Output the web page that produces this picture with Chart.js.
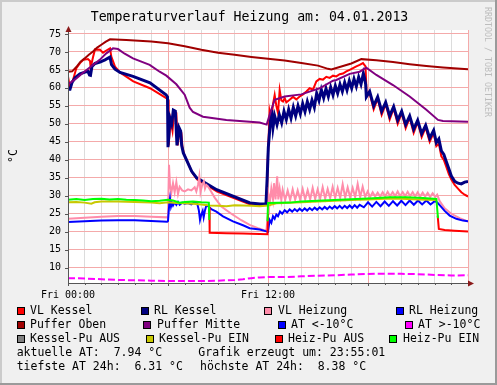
<!DOCTYPE html>
<html><head><meta charset="utf-8">
<script src="https://cdn.jsdelivr.net/npm/chart.js@4.4.0/dist/chart.umd.min.js"></script>
<style>html,body{margin:0;padding:0;background:#f0f0f0;overflow:hidden}canvas{display:block}</style>
</head><body>
<canvas id="c" width="497" height="385"></canvas>
<script>
// ---- data: [hour, °C] ----
const vlKessel = [[0,63.2],[0.1,60.5],[0.3,62.2],[0.5,65.5],[0.72,66.9],[0.92,67.8],[1.2,68],[1.32,67.5],[1.36,65.6],[1.5,68.5],[1.62,70.7],[1.92,70.6],[2.1,69.8],[2.3,70.4],[2.52,71],[2.6,68.7],[2.82,65.9],[3.12,64.3],[3.92,61.8],[4.92,59.9],[5.92,57.1],[6.0,56.8],
[6.04,44],[6.15,51],[6.27,48],[6.38,53.5],[6.5,53],[6.58,44],[6.7,48.5],[6.8,47.5],[6.87,43.5],[6.97,41.5],[7.45,36.5],[7.75,34.5],[8.95,31.2],[10.95,27.6],[11.55,27.2],[11.9,27.5],
[12.0,42],[12.1,53.4],[12.2,51],[12.3,55.5],[12.4,58],[12.5,55],[12.6,53],[12.7,59.4],[12.8,56.5],[12.9,56.2],[13.0,57.2],[13.1,56],[13.3,56.7],[13.5,57.5],[13.7,56.8],[13.9,57.6],[14.1,58.2],[14.3,59],[14.5,59.9],[14.7,59.5],[14.9,61.8],[15.1,62.5],[15.3,62.3],[15.5,63.1],[15.7,62.8],[15.9,63.4],[16.1,63.2],[16.3,63.8],[16.5,64],[16.7,64.6],[16.9,65],[17.1,65.5],[17.3,66],[17.5,66.4],[17.7,66.9],[17.85,66],
[17.92,58],[18.1,58.5],[18.34,54],[18.58,57],[18.82,52.5],[19.06,55.5],[19.3,51.2],[19.54,54.3],[19.78,50],[20.02,53],[20.26,48.8],[20.5,51.7],[20.74,47.5],[20.98,50.5],[21.22,46.3],[21.46,49],[21.7,45],[21.94,47.5],[22.1,43.8],[22.25,44.5],[22.4,41],[22.55,40],[22.7,38],[22.85,36],[23.0,34.5],[23.2,33],[23.4,32],[23.6,31],[23.8,30.3],[24,29.8]];

const rlKessel = [[0,59.6],[0.12,59.6],[0.24,61.5],[0.42,62.8],[0.72,63.9],[1.02,64.4],[1.2,64.6],[1.29,63.6],[1.35,63.5],[1.44,66],[1.62,66.8],[1.92,67.2],[2.22,67.8],[2.52,68.6],[2.61,66.5],[2.82,65.2],[3.12,64.3],[3.9,63.2],[4.92,61.4],[5.88,58.1],[5.97,57.5],
[6.0,43.5],[6.12,51.5],[6.22,50],[6.32,53.8],[6.44,53.5],[6.54,44],[6.66,49],[6.76,48],[6.82,44],[6.92,41.9],[7.42,36.8],[7.72,35],[8.92,31.7],[10.92,28],[11.52,27.7],[11.88,27.8],
[11.95,35],[12.02,43.5],[12.12,49.3],[12.22,53.9],[12.3,49],
[12.4,52.2],[12.54,49.8],[12.68,52.5],[12.82,50.3],[12.96,53.5],[13.1,51.2],[13.24,54],[13.38,51.6],[13.52,54.6],[13.66,52.2],[13.8,55],[13.94,52.8],[14.08,55.6],[14.22,53.4],[14.36,56.2],[14.5,54],[14.64,56.6],[14.78,54.6],[14.92,58.5],[15.06,56.5],[15.2,59.5],[15.34,57.2],[15.48,59.8],[15.62,57.6],[15.76,60.2],[15.9,58],[16.04,60.6],[16.18,58.5],[16.32,61],[16.46,59],[16.6,61.5],[16.74,59.4],[16.88,62],[17.02,59.9],[17.16,62.5],[17.3,60.4],[17.44,63],[17.58,61],[17.72,64],[17.8,62.5],[17.86,61],
[17.9,57.5],[18.1,59],[18.34,55],[18.58,57.5],[18.82,53.5],[19.06,56],[19.3,52.2],[19.54,54.8],[19.78,51],[20.02,53.5],[20.26,49.8],[20.5,52.2],[20.74,48.5],[20.98,51],[21.22,47.3],[21.46,49.6],[21.7,46],[21.94,48.2],[22.1,44.8],[22.25,45.8],[22.4,42.5],[22.55,41.5],[22.7,39.5],[22.85,37.5],[23.0,35.5],[23.2,34],[23.4,33.5],[23.6,33.3],[23.8,33.8],[24,34]];

const vlHeizung = [[0,23.6],[1,23.9],[2,24.2],[3,24.4],[4,24.4],[5,24.2],[5.95,24.0],
[6.0,24.5],[6.06,38.6],[6.12,33],[6.2,30.8],[6.3,33.5],[6.4,31],[6.5,33.8],[6.6,30.5],[6.7,32.5],[6.85,31.5],[7.0,31.2],[7.2,31.8],[7.4,31.5],[7.6,32.4],[7.7,31.2],[7.8,33],[7.88,35.4],[7.95,31],[8.05,33],[8.15,34],[8.22,32],[8.3,33],[8.4,32.6],[8.55,31.5],[8.8,29.5],[9.2,27],[9.8,25],[10.4,23.2],[10.9,21.9],[11.4,21],[11.9,20.2],
[12.0,25],[12.05,30],[12.12,28.5],[12.2,32],[12.3,29],[12.36,33.5],[12.45,29],[12.55,35.4],[12.62,29],[12.7,32],[12.8,28.8],[12.88,31.7],[13.03,28.8],[13.18,31.5],[13.33,28.8],[13.48,31.8],[13.63,28.9],[13.78,31.5],[13.93,28.9],[14.08,31.9],[14.23,29],[14.38,31.6],[14.53,29],[14.68,32.2],[14.83,29.1],[14.98,31.8],[15.13,29.2],[15.28,32.4],[15.43,29.2],[15.58,31.9],[15.73,29.3],[15.88,32.5],[16.03,29.4],[16.18,32.2],[16.33,29.4],[16.48,33.2],[16.63,29.5],[16.78,32.3],[16.93,29.5],[17.08,32.2],[17.23,29.6],[17.38,33.3],[17.53,29.6],[17.68,32.5],[17.83,29.7],[17.98,31.2],[18.13,29.7],[18.28,31],[18.43,29.8],[18.58,30.9],[18.73,29.8],[18.88,31],[19.03,29.8],[19.18,31.1],[19.33,29.9],[19.48,31],[19.63,29.9],[19.78,31.2],[19.93,29.9],[20.08,31],[20.23,29.9],[20.38,31.1],[20.53,29.9],[20.68,31],[20.83,29.8],[20.98,31],[21.13,29.8],[21.28,30.9],[21.43,29.8],[21.58,30.8],[21.73,29.7],[21.88,30.7],[22.03,29.7],[22.15,30.3],[22.3,28.5],[22.6,26.5],[23,25],[23.5,23.8],[24,22.8]];

const rlHeizung = [[0,22.7],[1,22.9],[2,23.1],[3,23.2],[4,23.2],[5,23.0],[5.95,22.8],
[6.0,23],[6.08,28],[6.12,29.3],[6.18,27],[6.24,28],[6.3,27.3],[6.4,28.2],[6.5,27.5],[6.6,28.3],[6.7,27.5],[6.85,28.1],[7.0,27.8],[7.2,28],[7.4,27.6],[7.6,28.2],[7.75,27.9],[7.85,26],[7.92,23.3],[8.0,24.8],[8.08,25.8],[8.14,24],[8.22,26],[8.3,27.3],[8.45,27],[8.6,26.3],[8.9,25.6],[9.3,24.3],[9.9,22.9],[10.5,21.8],[10.9,21.0],[11.5,20.6],[11.9,20.1],
[12.0,20],[12.1,23.3],[12.2,22.5],[12.3,24.3],[12.4,23.6],[12.5,24.8],[12.6,24.3],[12.72,25.6],[12.85,25],[13.0,26],[13.15,25.4],[13.3,26.2],[13.45,25.6],[13.6,26.3],[13.75,25.7],[13.9,26.4],[14.05,25.8],[14.2,26.5],[14.35,25.9],[14.5,26.6],[14.65,26],[14.8,26.7],[14.95,26.1],[15.1,26.8],[15.25,26.2],[15.4,26.9],[15.55,26.3],[15.7,27],[15.85,26.4],[16.0,27.1],[16.15,26.5],[16.3,27.2],[16.45,26.5],[16.6,27.2],[16.75,26.6],[16.9,27.3],[17.05,26.6],[17.2,27.4],[17.35,26.7],[17.5,27.5],[17.75,26.8],[18.0,28.2],[18.25,27],[18.5,28.3],[18.75,27.1],[19.0,28.4],[19.25,27.2],[19.5,28.5],[19.75,27.3],[20.0,28.6],[20.25,27.4],[20.5,28.7],[20.75,27.5],[21.0,28.7],[21.25,27.6],[21.5,28.7],[21.75,27.6],[22.0,28.5],[22.15,28.2],[22.3,27.4],[22.6,25.8],[22.9,24.5],[23.3,23.6],[23.7,23.1],[24,22.9]];

const pufferOben = [[0,64.5],[0.25,64.6],[0.5,65.8],[0.75,67.3],[1.0,68.2],[1.25,69.2],[1.5,70.1],[1.75,71.2],[2.0,72],[2.25,72.8],[2.52,73.5],[3.5,73.3],[5,72.9],[6,72.4],[7,71.6],[8,70.6],[9,69.8],[10,69.2],[11,68.6],[12,68.1],[13,67.6],[14,66.9],[15,66.2],[15.6,65.3],[15.8,65.1],[16.3,65.8],[17,66.8],[17.6,68],[18.5,67.7],[19.5,67.2],[20.5,66.6],[21.5,66.1],[22.5,65.7],[24,65.2]];

const pufferMitte = [[0,61],[0.5,62.6],[0.9,64.2],[1.4,66],[1.9,67.8],[2.3,69.6],[2.7,71],[3.0,70.8],[3.4,69.5],[3.9,68.2],[4.9,66.4],[5.5,64.5],[5.9,63.4],[6.5,61],[7.0,58.1],[7.3,54.5],[7.5,53.3],[8.1,52],[9.5,51.1],[11.5,50.4],[11.92,49.8],[12.1,52.5],[12.4,56.7],[13.0,57.6],[14.0,58.2],[14.9,59.6],[15.1,59.9],[15.9,62],[16.1,62.2],[16.9,63.9],[17.5,64.5],[17.9,65.6],[18.5,63.6],[19.5,60.8],[20.5,57.6],[21.5,53.9],[22.2,51.1],[22.5,50.8],[24,50.6]];

const atUnter10 = [];
const atUeber10 = [[0,7.1],[1,7.0],[2,6.8],[3,6.6],[4,6.5],[5,6.4],[6,6.3],[7,6.3],[8,6.3],[9,6.4],[10,6.6],[10.5,6.8],[11,7.1],[11.5,7.3],[12,7.4],[13,7.4],[14,7.6],[15,7.8],[16,7.9],[17,8.1],[18,8.25],[19,8.35],[20,8.3],[21,8.2],[22,8.0],[23,7.85],[24,7.9]];
const kesselPuAus = [];
const kesselPuEin = [[0,28.2],[0.5,28.3],[1,28.1],[1.4,27.8],[1.6,28.2],[2,28.4],[3,28.4],[4,28.3],[5,28.1],[5.5,27.9],[6,28.2],[6.5,28.0],[7,27.9],[7.5,27.8],[8,27.6],[8.5,27.3],[9,27.2],[9.5,27.1],[10,27.4],[10.5,27.3],[11,27.2],[11.5,27.1],[12,27.3],[12.5,27.9],[13,28.0],[14,28.2],[15,28.4],[16,28.6],[17,28.8],[18,29.0],[19,29.2],[20,29.2],[21,29.0],[22.15,28.8]];
const heizPuAus = [[8.48,26.8],[8.5,19.7],[9.5,19.6],[10.5,19.5],[11.5,19.4],[11.97,19.3],[12.0,25],[12.01,null],[22.18,24.5],[22.25,20.8],[22.6,20.5],[23.2,20.3],[24,20.1]];
const heizPuEin = [[0,28.9],[0.5,29.1],[1,28.8],[1.5,29.1],[2,29.2],[2.5,29.0],[3,29.1],[3.5,28.9],[4,28.8],[4.5,28.7],[5,28.5],[5.5,28.6],[6,28.9],[6.3,28.7],[6.7,28.1],[7.0,28.3],[7.5,28.4],[8.0,28.2],[8.45,28.1],[8.48,23.3],[8.5,null],[11.97,22.9],[12.0,28.0],[13.3,28.1],[14,28.4],[15.3,28.7],[16.3,28.9],[17.3,29.1],[18.3,29.3],[19.3,29.6],[20.3,29.6],[21.3,29.4],[22.1,29.1],[22.2,23.8]];

const legendLabels = ['VL Kessel','RL Kessel','VL Heizung','RL Heizung','Puffer Oben','Puffer Mitte','AT <-10°C','AT >-10°C','Kessel-Pu AUS','Kessel-Pu EIN','Heiz-Pu AUS','Heiz-Pu EIN'];
const seriesColors = ['#FF0000','#000080','#FF8CAA','#0000FF','#A00000','#800080','#0000FF','#FF00FF','#808080','#C8C800','#FF0000','#00FF00'];
const seriesData = [vlKessel,rlKessel,vlHeizung,rlHeizung,pufferOben,pufferMitte,atUnter10,atUeber10,kesselPuAus,kesselPuEin,heizPuAus,heizPuEin];
const seriesWidth = [2,3,2,2,2,2,2,2,2,2,2,2];
const yTicks = [10,15,20,25,30,35,40,45,50,55,60,65,70,75];
const xTickLabels = {0:'Fri 00:00', 12:'Fri 12:00'};
const titleText = 'Temperaturverlauf Heizung am: 04.01.2013';
const infoLines = [['aktuelle AT:  7.94 °C','Grafik erzeugt um: 23:55:01'],['tiefste AT 24h:  6.31 °C','höchste AT 24h:  8.38 °C']];

const W=497,H=385;
const MONO='"DejaVu Sans Mono", monospace';

const datasets = seriesData.map((d,i)=>({
  label: legendLabels[i],
  data: d.map(p=>({x:p[0],y:p[1]})),
  borderColor: seriesColors[i],
  backgroundColor: seriesColors[i],
  borderWidth: seriesWidth[i],
  borderDash: i===7 ? [7,3] : [],
  pointRadius:0, tension:0, spanGaps:false, fill:false,
  order: 20-i
}));

const legendPos = [ // [boxX, textX, rowY]
 [17,30,311],[141,154,311],[264,278,311],[396,409,311],
 [17,30,325],[143,157,325],[278,291,325],[405,418,325],
 [17,30,339],[146,159,339],[275,288,339],[389,403,339]
];

const deco = {
  id:'deco',
  beforeDraw(chart){
    const c=chart.ctx,a=chart.chartArea;
    c.save();
    c.fillStyle='#F0F0F0'; c.fillRect(0,0,W,H);
    c.fillStyle='#CBCBCB'; c.fillRect(0,0,W,2); c.fillRect(0,0,2,H);
    c.fillStyle='#9A9A9A'; c.fillRect(0,H-2,W,2); c.fillRect(W-2,0,2,H);
    c.fillStyle='#FFFFFF'; c.fillRect(a.left,a.top,a.right-a.left,a.bottom-a.top);
    c.restore();
  },
  afterDraw(chart){
    const c=chart.ctx,a=chart.chartArea;
    const xs=chart.scales.x, ys=chart.scales.y;
    c.save();
    c.strokeStyle='#555'; c.lineWidth=1;
    c.beginPath();
    yTicks.forEach(v=>{const y=Math.round(ys.getPixelForValue(v))+0.5; c.moveTo(a.left-3,y); c.lineTo(a.left,y);});
    for(let h=0;h<=24;h++){const x=Math.round(xs.getPixelForValue(h))+0.5; const l=(h%6===0)?3:2; c.moveTo(x,a.bottom); c.lineTo(x,a.bottom+l);}
    c.stroke();
    c.beginPath();
    c.moveTo(a.left+0.5,a.bottom+0.5); c.lineTo(a.left+0.5,a.top-1);
    c.moveTo(a.left,a.bottom+0.5); c.lineTo(a.right+4,a.bottom+0.5);
    c.stroke();
    c.fillStyle='#8B1A1A';
    c.beginPath(); c.moveTo(a.left+0.5,a.top-4); c.lineTo(a.left-2.5,a.top+2); c.lineTo(a.left+3.5,a.top+2); c.closePath(); c.fill();
    c.beginPath(); c.moveTo(a.right+6,a.bottom+0.5); c.lineTo(a.right,a.bottom-2.5); c.lineTo(a.right,a.bottom+3.5); c.closePath(); c.fill();
    c.fillStyle='#000'; c.font='13.2px '+MONO; c.textAlign='center'; c.textBaseline='alphabetic';
    c.fillText(titleText,249.5,20.5);
    c.save(); c.translate(14,156); c.rotate(-Math.PI/2); c.font='11.5px '+MONO; c.textBaseline='middle'; c.fillText('°C',0,0); c.restore();
    c.save(); c.translate(487.5,62); c.rotate(Math.PI/2); c.font='8.3px '+MONO; c.fillStyle='#BDBDBD'; c.textAlign='center'; c.textBaseline='middle'; c.fillText('RRDTOOL / TOBI OETIKER',0,0); c.restore();
    c.font='11.5px '+MONO; c.textAlign='left'; c.textBaseline='middle';
    legendPos.forEach((p,i)=>{
      c.fillStyle=seriesColors[i]; c.fillRect(p[0],p[2]-4,8,8);
      c.strokeStyle='#000'; c.lineWidth=1; c.strokeRect(p[0]+0.5,p[2]-3.5,7,7);
      c.fillStyle='#000'; c.fillText(legendLabels[i],p[1],p[2]+0.5);
    });
    c.fillText(infoLines[0][0],16.7,353.5); c.fillText(infoLines[0][1],198.3,353.5);
    c.fillText(infoLines[1][0],16.7,367.5); c.fillText(infoLines[1][1],200,367.5);
    c.restore();
  }
};

new Chart(document.getElementById('c'),{
  type:'line',
  data:{datasets},
  options:{
    responsive:false, animation:false, devicePixelRatio:1,
    layout:{padding:{left:0,top:30,right:29,bottom:82}},
    plugins:{legend:{display:false},tooltip:{enabled:false},title:{display:false}},
    scales:{
      x:{type:'linear',min:0,max:24,
        afterFit(s){s.height=20;},
        afterBuildTicks(s){const t=[];for(let h=0;h<=24;h++)t.push({value:h});s.ticks=t;},
        border:{display:false},
        grid:{drawTicks:false,lineWidth:1,color:(ctx)=> (ctx.tick && ctx.tick.value%6===0)?'#F4AAAA':'#DCDCDC'},
        ticks:{autoSkip:false,maxRotation:0,minRotation:0,padding:6,color:'#000',font:{family:MONO,size:10},
          callback:(v)=> xTickLabels[v]||''}
      },
      y:{type:'linear',min:5.75,max:76.1,
        afterFit(s){s.width=68;},
        afterBuildTicks(s){s.ticks=yTicks.map(v=>({value:v}));},
        border:{display:false},
        grid:{drawTicks:false,lineWidth:1,color:'#F4AAAA'},
        ticks:{padding:7,color:'#000',font:{family:MONO,size:10},callback:(v)=>String(v)}
      }
    }
  },
  plugins:[deco]
});
</script></body></html>
